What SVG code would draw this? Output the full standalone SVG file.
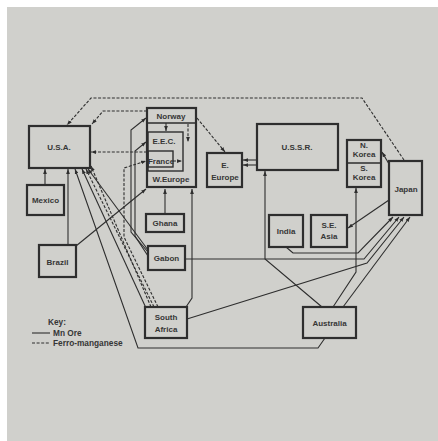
<svg xmlns="http://www.w3.org/2000/svg" width="438" height="441" viewBox="0 0 438 441">
<defs>
<marker id="ah" viewBox="0 0 8 6" markerWidth="5" markerHeight="4" refX="8" refY="3" orient="auto" markerUnits="userSpaceOnUse">
<path d="M0,0 L8,3 L0,6 z" fill="#2e2e2e"/>
</marker>
</defs>
<style>
.box{fill:none;stroke:#2e2e2e;stroke-width:2.2}
.inner{fill:none;stroke:#2e2e2e;stroke-width:1.4}
.c{fill:none;stroke:#2e2e2e;stroke-width:1.1;marker-end:url(#ah)}
.d{fill:none;stroke:#2e2e2e;stroke-width:1.1;stroke-dasharray:3,1.6;marker-end:url(#ah)}
.k{fill:none;stroke:#2e2e2e;stroke-width:1.1}
text{font-family:"Liberation Sans",Arial,sans-serif;font-weight:bold;font-size:8px;fill:#363636;text-anchor:middle}
.key{text-anchor:start;font-size:8.3px}
</style>
<rect x="0" y="0" width="438" height="441" fill="#ffffff"/>
<rect x="7" y="7" width="431" height="434" fill="#d0d0cc"/>

<g id="connectors">
<path class="c" d="M45,185 V169"/>
<path class="c" d="M68,245 V169"/>
<path class="c" d="M76,246 L146,189"/>
<path class="c" d="M325,338 L318,348 H138 L75,169"/>
<path class="c" d="M146,308 L82,169"/>
<path class="c" d="M148,250 L88,169"/>
<path class="c" d="M148,252 L131,232 V130 L146,118"/>
<path class="c" d="M148,256 L135,236 V151 L146,142"/>
<path class="c" d="M165,215 V189"/>
<path class="c" d="M186,307 L192,298 V189"/>
<path class="c" d="M185,259 H364 L399,217"/>
<path class="c" d="M286,247 L293,253 H358 L393,217"/>
<path class="c" d="M187,319 L367,263 L404,217"/>
<path class="c" d="M343,307 L410,217"/>
<path class="c" d="M333,307 L356,272 V188"/>
<path class="c" d="M322,307 L265,259 V171"/>
<path class="c" d="M256,160 H243"/>
<path class="c" d="M256,165 H243"/>
<path class="c" d="M389,164 L382,152"/>
<path class="c" d="M389,200 L348,228"/>
<path class="c" d="M166,123 V131"/>
<path class="d" d="M404,160 L362,98 H91 L67,125"/>
<path class="d" d="M147,111 H103 L92,124"/>
<path class="d" d="M147,152 H91"/>
<path class="d" d="M197,118 L225,152"/>
<path class="d" d="M188,124 V142"/>
<path class="d" d="M173,161 H182"/>
<path class="d" d="M151,307 L91,166"/>
<path class="d" d="M154,307 L86,169"/>
<path class="d" d="M158,307 L124,237 V168 L146,161"/>
</g>

<g id="usa"><rect class="box" x="29" y="126" width="61" height="42"/><text x="59" y="150">U.S.A.</text></g>
<g id="mexico"><rect class="box" x="27" y="185" width="37" height="30"/><text x="45.5" y="203">Mexico</text></g>
<g id="brazil"><rect class="box" x="39" y="245" width="37" height="32"/><text x="57.5" y="265">Brazil</text></g>
<g id="weurope"><rect class="box" x="147" y="108" width="49" height="79"/><line class="inner" x1="147" y1="123" x2="196" y2="123"/><text x="171" y="119">Norway</text><text x="171" y="182">W.Europe</text></g>
<g id="eec"><rect class="inner" x="148" y="132" width="35" height="39"/><text x="164" y="144">E.E.C.</text></g>
<g id="france"><rect class="inner" x="148" y="151" width="25" height="16"/><text x="161" y="164">France</text></g>
<g id="eeurope"><rect class="box" x="207" y="153" width="35" height="34"/><text x="225" y="168">E.</text><text x="225" y="180">Europe</text></g>
<g id="ussr"><rect class="box" x="257" y="124" width="81" height="46"/><text x="297" y="150">U.S.S.R.</text></g>
<g id="korea"><rect class="box" x="347" y="140" width="34" height="47"/><line class="inner" x1="347" y1="163" x2="381" y2="163"/><text x="364" y="148">N.</text><text x="364" y="157">Korea</text><text x="364" y="171">S.</text><text x="364" y="180">Korea</text></g>
<g id="japan"><rect class="box" x="389" y="161" width="33" height="54"/><text x="406" y="192">Japan</text></g>
<g id="ghana"><rect class="box" x="146" y="214" width="38" height="18"/><text x="165" y="226">Ghana</text></g>
<g id="gabon"><rect class="box" x="148" y="246" width="37" height="24"/><text x="166.5" y="261">Gabon</text></g>
<g id="india"><rect class="box" x="269" y="215" width="34" height="32"/><text x="286" y="234">India</text></g>
<g id="seasia"><rect class="box" x="311" y="215" width="36" height="32"/><text x="329" y="228">S.E.</text><text x="329" y="239">Asia</text></g>
<g id="safrica"><rect class="box" x="145" y="307" width="42" height="31"/><text x="166" y="320">South</text><text x="166" y="332">Africa</text></g>
<g id="australia"><rect class="box" x="303" y="307" width="53" height="31"/><text x="329.5" y="326">Australia</text></g>

<g id="key">
<text class="key" x="48" y="325">Key:</text>
<line class="k" x1="32" y1="333" x2="50" y2="333"/>
<text class="key" x="53" y="336">Mn Ore</text>
<line class="k" x1="32" y1="343" x2="50" y2="343" stroke-dasharray="3,1.6"/>
<text class="key" x="53" y="346">Ferro-manganese</text>
</g>
</svg>
